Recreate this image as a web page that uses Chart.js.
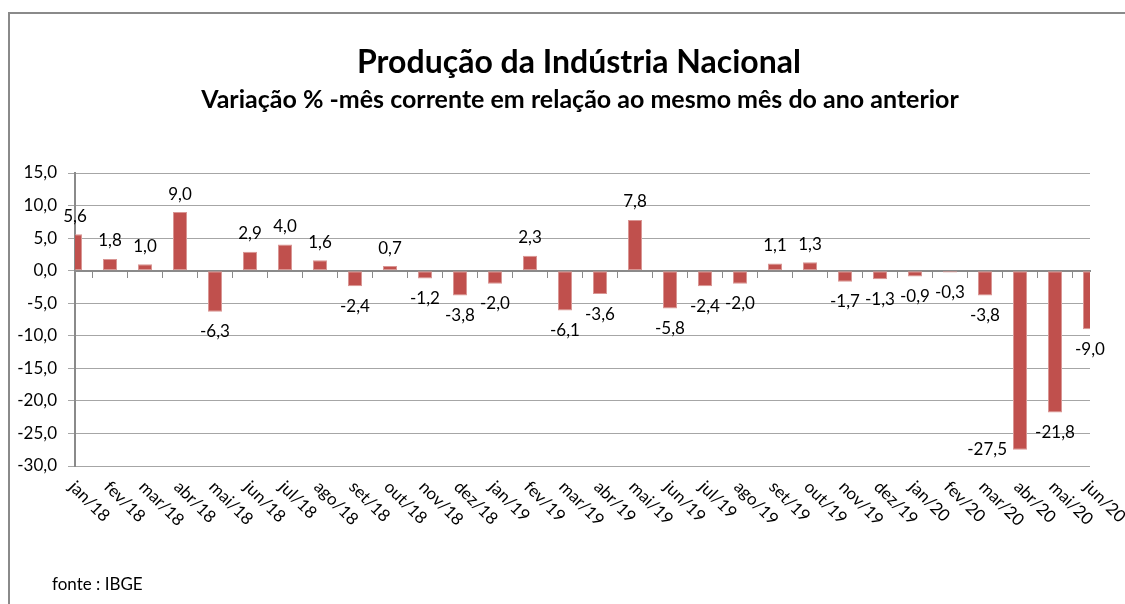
<!DOCTYPE html>
<html>
<head>
<meta charset="utf-8">
<script src="https://cdn.jsdelivr.net/npm/chart.js@4.4.0/dist/chart.umd.min.js"></script>
<style>
  html, body { margin: 0; padding: 0; background: #fff; }
</style>
</head>
<body>
<canvas id="chart" width="1125" height="604"></canvas>
<script>
const categories = ['jan/18', 'fev/18', 'mar/18', 'abr/18', 'mai/18', 'jun/18', 'jul/18', 'ago/18', 'set/18', 'out/18', 'nov/18', 'dez/18',
                    'jan/19', 'fev/19', 'mar/19', 'abr/19', 'mai/19', 'jun/19', 'jul/19', 'ago/19', 'set/19', 'out/19', 'nov/19', 'dez/19',
                    'jan/20', 'fev/20', 'mar/20', 'abr/20', 'mai/20', 'jun/20'];
const values = [5.6, 1.8, 1.0, 9.0, -6.3, 2.9, 4.0, 1.6, -2.4, 0.7, -1.2, -3.8,
                -2.0, 2.3, -6.1, -3.6, 7.8, -5.8, -2.4, -2.0, 1.1, 1.3, -1.7, -1.3,
                -0.9, -0.3, -3.8, -27.5, -21.8, -9.0];
const yMin = -30;
const yMax = 15;
const yStep = 5;

const titleText = 'Produção da Indústria Nacional';
const subtitleText = 'Variação % -mês corrente em relação ao mesmo mês do ano anterior';
const sourceText = 'fonte : IBGE';

const FONT = 'Lato, "Open Sans", sans-serif';

function fmt(v) {
    return v.toFixed(1).replace('.', ',');
}

// moldura, titulos e fonte
const frame = {
    id: 'frame',
    beforeDraw(chart) {
        const ctx = chart.ctx;
        ctx.save();
        ctx.fillStyle = '#ffffff';
        ctx.fillRect(0, 0, chart.width, chart.height);
        ctx.strokeStyle = '#8a8a8a';
        ctx.lineWidth = 2;
        ctx.beginPath();
        ctx.moveTo(9, chart.height);
        ctx.lineTo(9, 13);
        ctx.lineTo(chart.width, 13);
        ctx.stroke();

        ctx.fillStyle = '#000000';
        ctx.textAlign = 'center';
        ctx.textBaseline = 'alphabetic';
        ctx.font = 'bold 32px ' + FONT;
        ctx.fillText(titleText, 579, 73);
        ctx.font = 'bold 25px ' + FONT;
        ctx.fillText(subtitleText, 580, 108);

        ctx.textAlign = 'left';
        ctx.font = '17px ' + FONT;
        ctx.fillText(sourceText, 52, 590);
        ctx.restore();
    }
};

// rotulos dos dados e do eixo x
const labels = {
    id: 'labels',
    afterDraw(chart) {
        const ctx = chart.ctx;
        const area = chart.chartArea;
        const xScale = chart.scales.x;
        const meta = chart.getDatasetMeta(0);
        ctx.save();
        ctx.fillStyle = '#000000';
        ctx.font = '17px ' + FONT;
        ctx.textBaseline = 'middle';
        meta.data.forEach((bar, i) => {
            const v = values[i];
            const txt = fmt(v);
            if (v >= 0) {
                ctx.textAlign = 'center';
                ctx.fillText(txt, bar.x, bar.y - 18);
            } else if (bar.y + 20 > area.bottom - 8) {
                ctx.textAlign = 'right';
                ctx.fillText(txt, bar.x - bar.width / 2 - 6, bar.y);
            } else {
                ctx.textAlign = 'center';
                ctx.fillText(txt, bar.x, bar.y + 20);
            }
        });

        ctx.textAlign = 'left';
        ctx.textBaseline = 'top';
        ctx.font = '17px ' + FONT;
        categories.forEach((c, i) => {
            const x = xScale.getPixelForValue(i);
            ctx.save();
            ctx.translate(x + 3, area.bottom + 12);
            ctx.rotate(Math.PI / 4);
            ctx.fillText(c, 0, 0);
            ctx.restore();
        });
        ctx.restore();
    }
};

new Chart(document.getElementById('chart'), {
    type: 'bar',
    data: {
        labels: categories,
        datasets: [{
            data: values,
            backgroundColor: '#c0504d',
            borderColor: '#d99694',
            borderWidth: 1,
            borderSkipped: false,
            barPercentage: 0.4,
            categoryPercentage: 1.0,
            clip: 0
        }]
    },
    options: {
        responsive: false,
        animation: false,
        devicePixelRatio: 1,
        layout: {
            padding: { left: 0, top: 173, right: 35, bottom: 138 }
        },
        plugins: {
            legend: { display: false },
            title: { display: false },
            tooltip: { enabled: false }
        },
        scales: {
            x: {
                type: 'category',
                offset: false,
                position: { y: 0 },
                grid: {
                    drawOnChartArea: false,
                    drawTicks: true,
                    tickLength: 6,
                    color: '#8a8a8a',
                    lineWidth: 1
                },
                border: { color: '#8a8a8a', width: 2 },
                ticks: { display: false }
            },
            y: {
                min: yMin,
                max: yMax,
                afterFit(scale) { scale.width = 75; },
                ticks: {
                    stepSize: yStep,
                    color: '#000000',
                    font: { family: FONT, size: 17 },
                    padding: 11,
                    callback: (v) => fmt(v)
                },
                grid: {
                    color: '#a6a6a6',
                    lineWidth: 1,
                    tickLength: 7
                },
                border: { color: '#8a8a8a', width: 2 }
            }
        }
    },
    plugins: [frame, labels]
});
</script>
</body>
</html>
